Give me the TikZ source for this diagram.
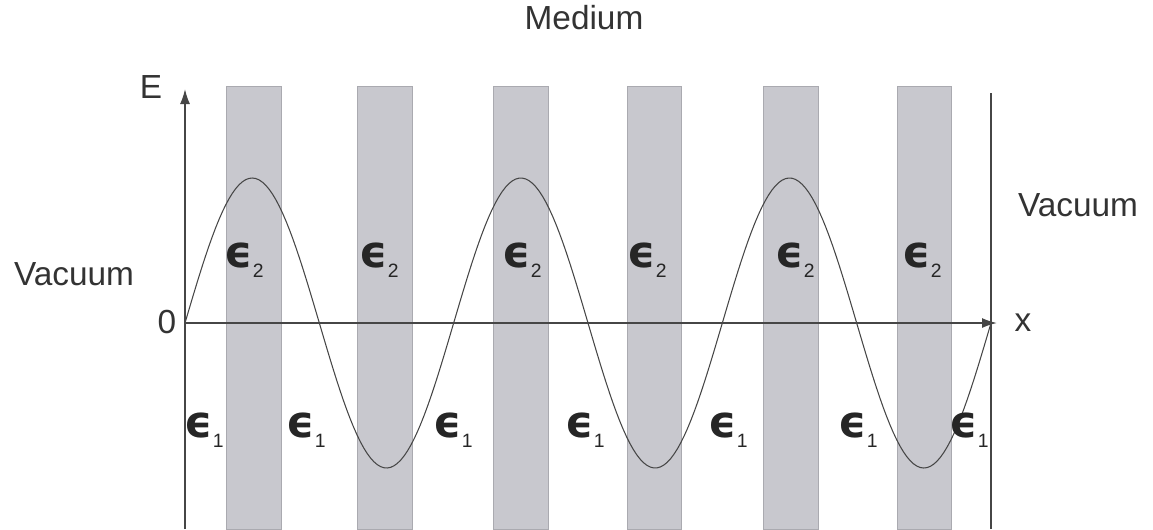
\documentclass[tikz,border=0pt]{standalone}
\usepackage{fontspec}
\setmainfont{Liberation Sans}
\newfontfamily\epsfont{DejaVu Sans}
\usetikzlibrary{arrows.meta}
\definecolor{Layer}{RGB}{200,200,206}
\definecolor{LayerEdge}{RGB}{170,170,176}
\definecolor{Ink}{RGB}{70,70,70}
\newcommand{\eps}[1]{{\epsfont\bfseries ϵ}\raisebox{-0.45ex}{\fontsize{11}{11}\selectfont #1}}

\begin{document}
\begin{tikzpicture}[
    x=0.02cm,y=-0.02cm,
    layer/.style={rectangle,draw=LayerEdge,fill=Layer,line width=0.4pt},
    axis/.style={-{Latex[length=3mm,width=2mm]},draw=Ink,line width=0.9pt},
    wave/.style={draw=Ink,line width=0.6pt},
    label/.style={font=\fontsize{19}{22}\selectfont,text=black!80,inner sep=0pt},
    eps/.style={font=\fontsize{25}{28}\selectfont,text=black!85,inner sep=0pt}
]

\useasboundingbox (0,0) rectangle (1153,529);

% Dielectric layers of the medium
\path[layer] (226,86) rectangle (281,529);
\path[layer] (357,86) rectangle (412,529);
\path[layer] (493,86) rectangle (548,529);
\path[layer] (627,86) rectangle (681,529);
\path[layer] (763,86) rectangle (818,529);
\path[layer] (897,86) rectangle (951,529);

% Axes
\coordinate (origin) at (185,323);
\coordinate (E-top) at (185,89);
\coordinate (E-bottom) at (185,529);
\coordinate (x-end) at (997,323);
\coordinate (edge-top) at (991,93);
\coordinate (edge-bottom) at (991,529);

\draw[axis] (E-bottom) -- (E-top);
\draw[axis] (origin) -- (x-end);
\draw[draw=Ink,line width=0.9pt] (edge-bottom) -- (edge-top);

% Field
\draw[wave] plot[domain=0:806,samples=240] ({185+\x},{323-145*sin(1.33995*\x)});

% Labels
\node[label] (medium) at (584,18) {Medium};
\node[label] (vac-left) at (74,274) {Vacuum};
\node[label] (vac-right) at (1078,205) {Vacuum};
\node[label] (zero) at (167,322) {0};
\node[label] (E-label) at (151,87) {E};
\node[label] (x-label) at (1023,323) {x};

% Permittivities
\node[eps] (e2-a) at (244,260) {\eps{2}};
\node[eps] (e2-b) at (379,260) {\eps{2}};
\node[eps] (e2-c) at (522,260) {\eps{2}};
\node[eps] (e2-d) at (647,260) {\eps{2}};
\node[eps] (e2-e) at (795,260) {\eps{2}};
\node[eps] (e2-f) at (922,260) {\eps{2}};

\node[eps] (e1-a) at (204,430) {\eps{1}};
\node[eps] (e1-b) at (306,430) {\eps{1}};
\node[eps] (e1-c) at (453,430) {\eps{1}};
\node[eps] (e1-d) at (585,430) {\eps{1}};
\node[eps] (e1-e) at (728,430) {\eps{1}};
\node[eps] (e1-f) at (858,430) {\eps{1}};
\node[eps] (e1-g) at (969,430) {\eps{1}};

\end{tikzpicture}
\end{document}
